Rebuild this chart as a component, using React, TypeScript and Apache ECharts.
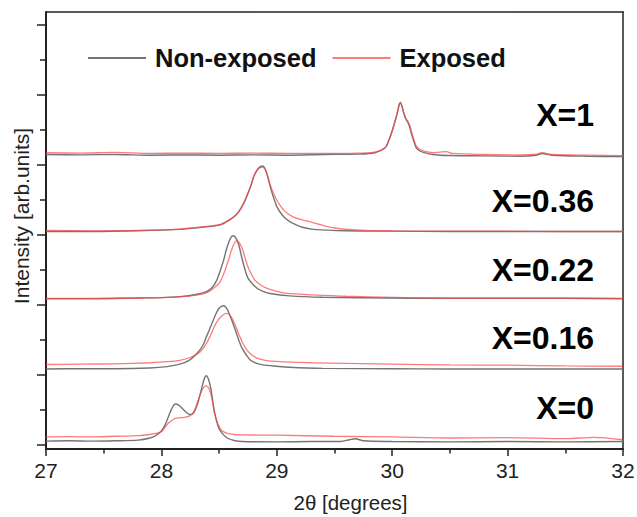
import React, { useEffect, useRef } from "react";
import * as echarts from "echarts";

type Pt = [number, number];

// Stacked intensities (arb. units, offset per composition)
const g0: Pt[] = [[27.0,0.11],[27.2,0.12],[27.4,0.11],[27.6,0.12],[27.8,0.14],[27.9,0.2],[27.95,0.27],[28.0,0.4],[28.03,0.56],[28.06,0.8],[28.09,1.04],[28.12,1.17],[28.15,1.14],[28.18,1.05],[28.22,0.92],[28.25,0.87],[28.28,0.92],[28.31,1.14],[28.34,1.5],[28.37,1.88],[28.39,1.98],[28.41,1.86],[28.43,1.58],[28.46,0.95],[28.49,0.55],[28.52,0.36],[28.57,0.2],[28.63,0.13],[28.7,0.1],[29.0,0.09],[29.3,0.1],[29.55,0.1],[29.63,0.15],[29.68,0.18],[29.75,0.12],[30.0,0.1],[30.5,0.09],[31.0,0.1],[31.5,0.09],[32.0,0.1]];
const r0: Pt[] = [[27.0,0.23],[27.2,0.24],[27.4,0.23],[27.6,0.25],[27.8,0.27],[27.9,0.3],[27.95,0.33],[28.0,0.38],[28.03,0.5],[28.06,0.62],[28.09,0.7],[28.12,0.76],[28.16,0.78],[28.2,0.79],[28.25,0.84],[28.28,0.95],[28.31,1.2],[28.34,1.48],[28.37,1.66],[28.39,1.69],[28.41,1.62],[28.43,1.45],[28.46,0.92],[28.49,0.6],[28.52,0.42],[28.57,0.33],[28.63,0.3],[28.7,0.29],[29.0,0.28],[29.5,0.25],[30.0,0.23],[30.5,0.2],[31.0,0.21],[31.5,0.18],[31.75,0.22],[32.0,0.15]];
const g16: Pt[] = [[27.0,2.17],[27.3,2.18],[27.6,2.18],[27.9,2.2],[28.05,2.24],[28.16,2.31],[28.24,2.42],[28.31,2.62],[28.36,2.85],[28.39,3.09],[28.42,3.33],[28.45,3.57],[28.48,3.8],[28.51,3.94],[28.54,3.98],[28.57,3.88],[28.6,3.65],[28.64,3.29],[28.67,3.0],[28.7,2.76],[28.74,2.55],[28.77,2.43],[28.82,2.34],[28.88,2.29],[29.0,2.25],[29.11,2.22],[29.4,2.19],[30.0,2.18],[30.5,2.17],[31.0,2.17],[31.5,2.17],[32.0,2.17]];
const r16: Pt[] = [[27.0,2.3],[27.3,2.31],[27.6,2.32],[27.9,2.35],[28.05,2.38],[28.16,2.42],[28.25,2.5],[28.33,2.64],[28.38,2.85],[28.42,3.09],[28.45,3.32],[28.48,3.52],[28.52,3.68],[28.55,3.75],[28.57,3.76],[28.6,3.68],[28.62,3.57],[28.65,3.34],[28.68,3.09],[28.71,2.88],[28.74,2.72],[28.78,2.58],[28.83,2.48],[28.9,2.42],[29.03,2.38],[29.2,2.36],[29.46,2.34],[30.0,2.31],[30.5,2.29],[31.0,2.28],[31.5,2.26],[32.0,2.25]];
const g22: Pt[] = [[27.0,4.18],[27.4,4.18],[27.8,4.2],[28.0,4.21],[28.16,4.24],[28.3,4.3],[28.39,4.38],[28.44,4.5],[28.48,4.71],[28.51,4.98],[28.54,5.29],[28.56,5.55],[28.58,5.76],[28.6,5.92],[28.62,5.98],[28.645,5.92],[28.67,5.72],[28.69,5.45],[28.71,5.18],[28.73,4.95],[28.75,4.77],[28.79,4.6],[28.83,4.48],[28.88,4.39],[28.94,4.33],[29.11,4.26],[29.4,4.22],[30.0,4.2],[30.5,4.19],[31.0,4.19],[31.5,4.19],[32.0,4.18]];
const r22: Pt[] = [[27.0,4.19],[27.4,4.19],[27.8,4.2],[28.0,4.21],[28.16,4.23],[28.3,4.28],[28.4,4.36],[28.46,4.5],[28.51,4.67],[28.55,4.98],[28.59,5.38],[28.62,5.68],[28.65,5.83],[28.67,5.8],[28.7,5.62],[28.72,5.4],[28.75,5.09],[28.78,4.88],[28.81,4.71],[28.86,4.57],[28.91,4.48],[29.0,4.39],[29.09,4.33],[29.31,4.29],[29.6,4.25],[30.0,4.22],[30.5,4.2],[31.0,4.2],[31.5,4.2],[32.0,4.19]];
const g36: Pt[] = [[27.0,6.1],[27.4,6.1],[27.8,6.12],[28.16,6.16],[28.35,6.22],[28.51,6.29],[28.59,6.43],[28.64,6.55],[28.68,6.71],[28.72,6.95],[28.75,7.19],[28.78,7.45],[28.8,7.67],[28.83,7.86],[28.86,7.96],[28.88,7.97],[28.9,7.88],[28.92,7.67],[28.94,7.43],[28.96,7.19],[28.98,6.99],[29.0,6.81],[29.03,6.65],[29.06,6.52],[29.1,6.41],[29.14,6.33],[29.22,6.22],[29.32,6.16],[29.6,6.12],[30.0,6.11],[30.5,6.1],[31.0,6.1],[31.5,6.1],[32.0,6.1]];
const r36: Pt[] = [[27.0,6.13],[27.4,6.12],[27.8,6.13],[28.16,6.17],[28.35,6.23],[28.51,6.3],[28.59,6.44],[28.64,6.56],[28.68,6.72],[28.72,6.96],[28.75,7.2],[28.78,7.46],[28.8,7.67],[28.83,7.85],[28.86,7.93],[28.88,7.93],[28.9,7.87],[28.92,7.7],[28.94,7.46],[28.97,7.2],[29.0,7.0],[29.03,6.84],[29.06,6.71],[29.1,6.6],[29.14,6.52],[29.2,6.45],[29.26,6.4],[29.37,6.3],[29.5,6.2],[29.72,6.14],[30.0,6.12],[30.5,6.11],[31.0,6.11],[31.5,6.1],[32.0,6.1]];
const g1: Pt[] = [[27.0,8.3],[27.3,8.29],[27.6,8.3],[27.9,8.28],[28.2,8.29],[28.5,8.28],[28.8,8.29],[29.1,8.28],[29.4,8.3],[29.7,8.31],[29.85,8.35],[29.94,8.49],[29.97,8.7],[30.0,8.97],[30.02,9.2],[30.04,9.43],[30.06,9.72],[30.07,9.79],[30.085,9.68],[30.1,9.48],[30.12,9.3],[30.14,9.19],[30.155,9.05],[30.17,8.86],[30.19,8.65],[30.21,8.48],[30.24,8.4],[30.27,8.36],[30.35,8.3],[30.5,8.27],[30.8,8.26],[31.1,8.25],[31.25,8.28],[31.3,8.33],[31.38,8.28],[31.7,8.25],[32.0,8.24]];
const r1: Pt[] = [[27.0,8.35],[27.3,8.34],[27.6,8.36],[27.9,8.33],[28.2,8.34],[28.5,8.33],[28.8,8.34],[29.1,8.33],[29.4,8.33],[29.7,8.34],[29.85,8.37],[29.94,8.5],[29.97,8.7],[30.0,8.97],[30.02,9.2],[30.04,9.43],[30.06,9.7],[30.07,9.76],[30.085,9.68],[30.1,9.5],[30.12,9.33],[30.14,9.22],[30.155,9.1],[30.17,8.92],[30.19,8.7],[30.21,8.53],[30.24,8.45],[30.27,8.4],[30.35,8.35],[30.42,8.37],[30.47,8.38],[30.52,8.33],[30.8,8.3],[31.1,8.29],[31.25,8.31],[31.3,8.35],[31.38,8.3],[31.7,8.28],[32.0,8.27]];

const grayCurves: Pt[][] = [g0, g16, g22, g36, g1];
const redCurves: Pt[][] = [r0, r16, r22, r36, r1];

const sampleLabels = ["X=0", "X=0.16", "X=0.22", "X=0.36", "X=1"];
const sampleLabelY = [410, 340, 272, 203, 117];

const xTicks = [27, 28, 29, 30, 31, 32];
const yMajorTicks = [0, 2, 4, 6, 8, 10, 12];
const yMinorTicks = [1, 3, 5, 7, 9, 11];

const FONT = "'Liberation Sans', Arial, Helvetica, sans-serif";
const GRAY = "#747474";
const RED = "rgba(255,70,70,0.72)";
const AXIS = "#222";

export default function App() {
  const ref = useRef<HTMLDivElement>(null);
  useEffect(() => {
    if (!ref.current) return;
    const chart = echarts.init(ref.current, undefined, { renderer: "svg" });
    const series: any[] = [];
    grayCurves.forEach((d) => {
      series.push({
        type: "line",
        name: "Non-exposed",
        data: d,
        showSymbol: false,
        smooth: 0.3,
        color: GRAY,
        itemStyle: { color: GRAY },
        lineStyle: { color: GRAY, width: 1.4 },
        z: 2,
      });
    });
    redCurves.forEach((d) => {
      series.push({
        type: "line",
        name: "Exposed",
        data: d,
        showSymbol: false,
        smooth: 0.3,
        color: RED,
        itemStyle: { color: RED },
        lineStyle: { color: RED, width: 1.3 },
        z: 3,
      });
    });
    chart.setOption({
      animation: false,
      backgroundColor: "#fff",
      grid: {
        left: 46,
        right: 14,
        top: 12,
        bottom: 68,
        show: false,
        containLabel: false,
        outerBoundsMode: "none",
      },
      legend: {
        data: ["Non-exposed", "Exposed"],
        left: 83,
        top: 40,
        icon: "rect",
        itemWidth: 58,
        itemHeight: 2,
        itemGap: 16,
        textStyle: {
          fontSize: 25.5,
          fontWeight: "bold",
          color: "#111",
          fontFamily: FONT,
          padding: [0, 0, 0, 4],
        },
      },
      xAxis: [
        {
          type: "value",
          min: xTicks[0],
          max: xTicks[xTicks.length - 1],
          interval: 1,
          position: "bottom",
          axisLine: { show: true, onZero: false, lineStyle: { color: AXIS, width: 2 } },
          splitLine: { show: false },
          axisTick: { show: true, length: 7, lineStyle: { color: AXIS, width: 1.5 } },
          minorTick: { show: true, splitNumber: 2, length: 4.5, lineStyle: { color: AXIS, width: 1.5 } },
          minorSplitLine: { show: false },
          axisLabel: { fontSize: 21, color: AXIS, fontFamily: FONT, margin: 11 },
          name: "2θ [degrees]",
          nameLocation: "middle",
          nameGap: 43,
          nameTextStyle: { fontSize: 20.5, color: AXIS, fontFamily: FONT, padding: [0, 0, 0, 32] },
        },
        {
          type: "value",
          min: xTicks[0],
          max: xTicks[xTicks.length - 1],
          position: "top",
          axisLine: { show: true, onZero: false, lineStyle: { color: AXIS, width: 1.5 } },
          axisTick: { show: false },
          axisLabel: { show: false },
          splitLine: { show: false },
        },
      ],
      yAxis: [
        {
          type: "value",
          min: -0.114,
          max: 12.371,
          position: "left",
          axisLine: { show: true, onZero: false, lineStyle: { color: AXIS, width: 2 } },
          splitLine: { show: false },
          axisTick: { show: true, length: 9, customValues: yMajorTicks, lineStyle: { color: AXIS, width: 1.5 } },
          axisLabel: { show: false },
          name: "Intensity [arb.units]",
          nameLocation: "middle",
          nameGap: 14,
          nameTextStyle: { fontSize: 21, color: AXIS, fontFamily: FONT, padding: [0, 0, 0, 29] },
        },
        {
          type: "value",
          min: -0.114,
          max: 12.371,
          position: "left",
          axisLine: { show: false, onZero: false },
          splitLine: { show: false },
          axisTick: { show: true, length: 6, customValues: yMinorTicks, lineStyle: { color: AXIS, width: 1.5 } },
          axisLabel: { show: false },
        },
        {
          type: "value",
          min: -0.114,
          max: 12.371,
          position: "right",
          axisLine: { show: true, onZero: false, lineStyle: { color: AXIS, width: 1.5 } },
          splitLine: { show: false },
          axisTick: { show: false },
          axisLabel: { show: false },
        },
      ],
      graphic: sampleLabels.map((t, i) => ({
        type: "text",
        right: 43,
        top: sampleLabelY[i] - 18,
        style: {
          text: t,
          fontSize: 32,
          fontWeight: "bold",
          fontFamily: FONT,
          fill: "#000",
        },
        z: 10,
      })),
      series,
    });
    return () => chart.dispose();
  }, []);
  return (
    <div
      ref={ref}
      style={{ position: "absolute", left: 0, top: 0, width: 637, height: 517, background: "#fff" }}
    />
  );
}
